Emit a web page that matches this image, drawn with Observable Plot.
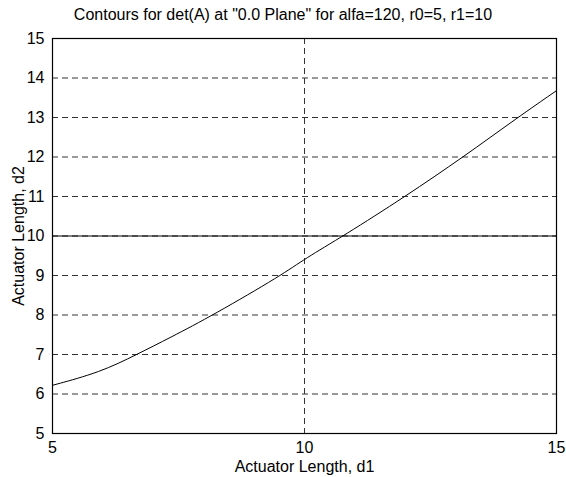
<!DOCTYPE html>
<html>
<head>
<meta charset="utf-8">
<script src="https://cdn.jsdelivr.net/npm/d3@7"></script>
<script src="https://cdn.jsdelivr.net/npm/@observablehq/plot@0.6"></script>
<style>
  html, body { margin: 0; padding: 0; background: #fff; }
  #title { width: 566px; height: 26px; text-align: center; font: 16px "Liberation Sans", Arial, sans-serif; line-height: 30px; color: #000; white-space: nowrap; }
</style>
</head>
<body>
<div id="title">Contours for det(A) at "0.0 Plane" for alfa=120, r0=5, r1=10</div>
<div id="chart"></div>
<script>
const d1 = [5, 5.95, 6.67, 7.34, 8.19, 9.56, 10.0, 10.77, 12.0, 13.15, 14.23, 15];
const d2 = [6.22, 6.55, 7.0, 7.43, 8.0, 9.02, 9.42, 10.0, 11.0, 12.0, 13.0, 13.68];
const flatLineD2 = 10;
const xTicks = [5, 10, 15];
const yTicks = [5, 6, 7, 8, 9, 10, 11, 12, 13, 14, 15];
const xGrid = [10];
const yGrid = [6, 7, 8, 9, 10, 11, 12, 13, 14];

const curve = d1.map((v, i) => ({d1: v, d2: d2[i]}));

const chart = Plot.plot({
  width: 566,
  height: 451,
  marginTop: 12,
  marginBottom: 44,
  marginLeft: 52,
  marginRight: 10,
  style: {fontFamily: "'Liberation Sans', Arial, sans-serif", fontSize: "16px", color: "#000", background: "#fff"},
  x: {domain: [5, 15]},
  y: {domain: [5, 15]},
  marks: [
    Plot.ruleY(yGrid, {stroke: "#333", strokeDasharray: "6,4", strokeWidth: 1}),
    Plot.ruleX(xGrid, {stroke: "#333", strokeDasharray: "6,4", strokeWidth: 1}),
    Plot.ruleY([flatLineD2], {stroke: "#000", strokeWidth: 1}),
    Plot.line(curve, {x: "d1", y: "d2", stroke: "#000", strokeWidth: 1, curve: "basis"}),
    Plot.frame({stroke: "#000", strokeWidth: 1.2}),
    Plot.axisX({ticks: xTicks, tickSize: 0, tickPadding: 8, label: "Actuator Length, d1", labelAnchor: "center", labelOffset: 38, labelArrow: "none", fontSize: 16}),
    Plot.axisY({ticks: yTicks, tickSize: 0, tickPadding: 8, label: "Actuator Length, d2", labelAnchor: "center", labelOffset: 40, labelArrow: "none", fontSize: 16})
  ]
});
document.getElementById("chart").appendChild(chart);
</script>
</body>
</html>
